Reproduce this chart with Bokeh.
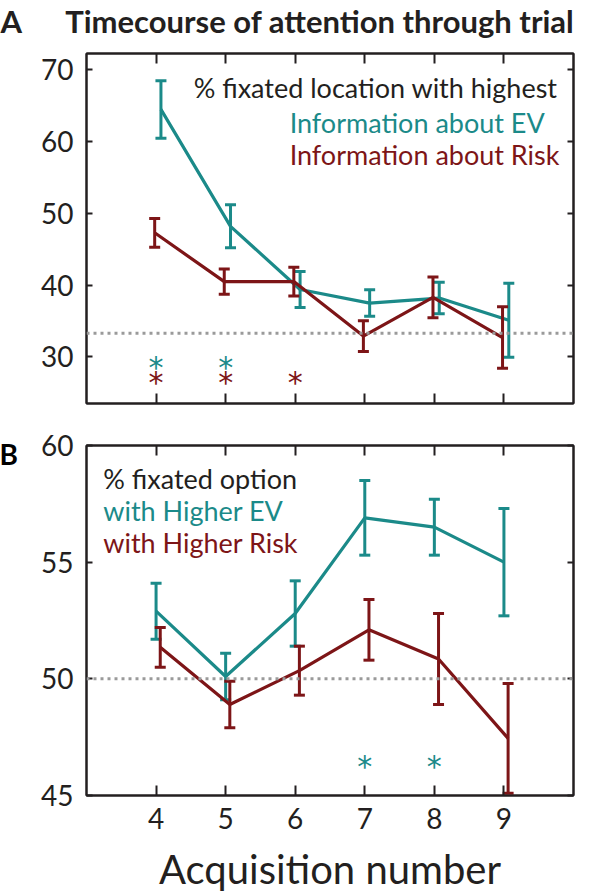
from bokeh.plotting import figure
from bokeh.layouts import column
from bokeh.models import ColumnDataSource, Span, Label, LinearAxis, FixedTicker, Range1d
from bokeh.core.properties import value
from bokeh.embed import file_html
from bokeh.resources import INLINE

# ---------------- data ----------------
acq = [4, 5, 6, 7, 8, 9]
x_ticks = [4, 5, 6, 7, 8, 9]

# Panel A: % fixated location with highest information
a_ev_mean = [64.5, 48.2, 39.4, 37.5, 38.2, 35.1]
a_ev_sem = [4.0, 3.0, 2.5, 1.85, 2.2, 5.15]
a_risk_mean = [47.3, 40.5, 40.5, 32.9, 38.3, 32.7]
a_risk_sem = [2.0, 1.75, 2.0, 2.15, 2.85, 4.3]
a_ev_sig = [4, 5]
a_risk_sig = [4, 5, 6]
a_chance = 33.3
a_yticks = [30, 40, 50, 60, 70]

# Panel B: % fixated option with higher EV / Risk
b_ev_mean = [52.9, 50.1, 52.8, 56.9, 56.5, 55.0]
b_ev_sem = [1.2, 1.0, 1.4, 1.6, 1.2, 2.3]
b_risk_mean = [51.35, 48.9, 50.35, 52.1, 50.85, 47.45]
b_risk_sem = [0.85, 1.0, 1.05, 1.3, 1.95, 2.35]
b_ev_sig = [7, 8]
b_risk_sig = []
b_chance = 50
b_yticks = [45, 50, 55, 60]

title_text = "Timecourse of attention through trial"
x_label = "Acquisition number"

# ---------------- style ----------------
TEAL = "#1b8a89"
RED = "#7d1517"
INK = "#231f20"
GREY = "#9a9a9a"
FONT = "Lato"
TICK_FS = "28px"
LEG_FS = "27px"


def add_axes(p, yticks, show_x_labels):
    for loc in ["left", "right", "above", "below"]:
        horiz = loc in ("above", "below")
        ax = LinearAxis(ticker=FixedTicker(ticks=x_ticks if horiz else yticks))
        ax.axis_line_color = INK
        ax.axis_line_width = 2
        ax.major_tick_line_color = INK
        ax.major_tick_line_width = 2
        ax.major_tick_in = 10 if horiz else 6
        ax.major_tick_out = 0
        ax.minor_tick_in = 0
        ax.minor_tick_out = 0
        labelled = (loc == "left") or (loc == "below" and show_x_labels)
        if labelled:
            ax.major_label_text_font = FONT
            ax.major_label_text_font_size = TICK_FS
            ax.major_label_text_color = INK
            ax.major_label_standoff = 13 if loc == "left" else 12
        else:
            ax.major_label_text_font_size = "0px"
            ax.major_label_text_color = None
            ax.major_label_standoff = 0
        p.add_layout(ax, loc)
    return p


def make_panel(frame_h, top, bottom, y0, y1):
    p = figure(frame_width=487, frame_height=frame_h,
               x_range=Range1d(3, 10), y_range=Range1d(y0, y1),
               output_backend="svg", toolbar_location=None,
               x_axis_location=None, y_axis_location=None,
               min_border_left=86, min_border_right=18,
               min_border_top=top, min_border_bottom=bottom)
    p.grid.visible = False
    p.outline_line_color = INK
    p.outline_line_width = 2
    p.background_fill_color = "white"
    p.border_fill_color = "white"
    return p


def draw_series(p, means, sems, offset, color):
    xs = [a + offset for a in acq]
    src = ColumnDataSource(dict(x=xs, y=means,
                                lo=[m - s for m, s in zip(means, sems)],
                                hi=[m + s for m, s in zip(means, sems)]))
    p.line("x", "y", source=src, line_color=color, line_width=3.2)
    p.segment(x0="x", y0="lo", x1="x", y1="hi", source=src,
              line_color=color, line_width=3)
    p.scatter("x", "lo", source=src, marker="dash", size=11,
              line_color=color, line_width=3)
    p.scatter("x", "hi", source=src, marker="dash", size=11,
              line_color=color, line_width=3)


def draw_sig(p, xs, level, color):
    if not xs:
        return
    p.text(x=xs, y=[level] * len(xs), text=["*"] * len(xs),
           text_align="center", text_baseline="alphabetic", y_offset=4,
           text_font=value("DejaVu Sans"), text_font_size="30px", text_color=color)


def legend_label(p, x, y, text, color):
    p.add_layout(Label(x=x, y=y, text=text, text_font=FONT, text_font_size=LEG_FS,
                       text_color=color, text_baseline="alphabetic", text_align="left"))


# ---------------- panel A ----------------
pa = make_panel(350, 53, 22, 23.5, 72.3)
add_axes(pa, a_yticks, False)
pa.add_layout(Label(x=-86, y=32.6, x_units="screen", y_units="screen",
                    text="A" + "\u00a0" * 6 + title_text,
                    text_font=FONT, text_font_size="31px", text_font_style="bold",
                    text_color=INK, text_baseline="alphabetic"), "above")
pa.add_layout(Span(location=a_chance, dimension="width", line_color=GREY,
                   line_width=3, line_dash="3 4"))
draw_series(pa, a_ev_mean, a_ev_sem, 0.07, TEAL)
draw_series(pa, a_risk_mean, a_risk_sem, -0.02, RED)
draw_sig(pa, a_ev_sig, 29.1, TEAL)
draw_sig(pa, a_risk_sig, 27.0, RED)
legend_label(pa, 4.54, 67.5, "% fixated location with highest", INK)
legend_label(pa, 5.92, 62.7, "Information about EV", TEAL)
legend_label(pa, 5.92, 58.2, "Information about Risk", RED)

# ---------------- panel B ----------------
pb = make_panel(350, 20, 95, 45, 60)
add_axes(pb, b_yticks, True)
pb.below[0].axis_label = x_label
pb.below[0].axis_label_text_font = FONT
pb.below[0].axis_label_text_font_size = "40px"
pb.below[0].axis_label_text_font_style = "normal"
pb.below[0].axis_label_text_color = INK
pb.below[0].axis_label_standoff = 13
pb.add_layout(Span(location=b_chance, dimension="width", line_color=GREY,
                   line_width=3, line_dash="3 4"))
draw_series(pb, b_ev_mean, b_ev_sem, 0.0, TEAL)
draw_series(pb, b_risk_mean, b_risk_sem, 0.06, RED)
draw_sig(pb, b_ev_sig, 46.4, TEAL)
draw_sig(pb, b_risk_sig, 46.4, RED)
legend_label(pb, 3.24, 58.58, "% fixated option", INK)
legend_label(pb, 3.24, 57.22, "with Higher EV", TEAL)
legend_label(pb, 3.24, 55.85, "with Higher Risk", RED)
pb.add_layout(Label(x=-21, y=341.5, x_units="screen", y_units="screen", text="B",
                    text_font=FONT, text_font_size="28px", text_font_style="bold",
                    text_color="black", text_baseline="alphabetic"), "left")

layout = column(pa, pb)
open("out.html", "w").write(file_html(layout, INLINE))
